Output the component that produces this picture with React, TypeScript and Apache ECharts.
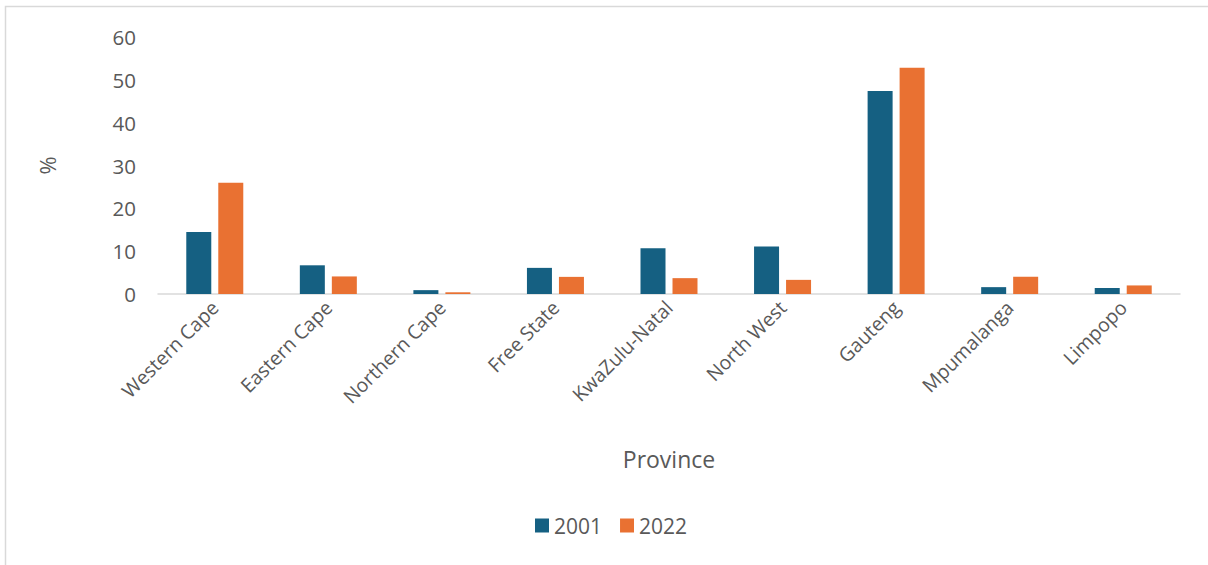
import React, { useEffect, useRef } from "react";
import * as echarts from "echarts";

const categories = [
  "Western Cape",
  "Eastern Cape",
  "Northern Cape",
  "Free State",
  "KwaZulu-Natal",
  "North West",
  "Gauteng",
  "Mpumalanga",
  "Limpopo",
];
const values2001 = [14.5, 6.7, 0.9, 6.1, 10.7, 11.1, 47.4, 1.6, 1.4];
const values2022 = [26.0, 4.1, 0.4, 4.0, 3.7, 3.3, 52.8, 4.0, 2.0];
const yTicks = [0, 10, 20, 30, 40, 50, 60];

const FONT = "'Open Sans', 'Noto Sans', sans-serif";

export default function App() {
  const ref = useRef<HTMLDivElement>(null);
  useEffect(() => {
    if (!ref.current) return;
    const chart = echarts.init(ref.current, undefined, { renderer: "svg" });
    chart.setOption({
      animation: false,
      backgroundColor: "#ffffff",
      textStyle: { fontFamily: FONT },
      graphic: [
        {
          type: "rect",
          shape: { x: 5.5, y: 6.5, width: 1300, height: 700 },
          style: { fill: "none", stroke: "#d9d9d9", lineWidth: 1.5 },
          silent: true,
          z: -1,
        },
      ],
      grid: { left: 158, right: 28, top: 37, bottom: 271, containLabel: false },
      legend: {
        bottom: 24,
        left: 530,
        itemWidth: 14,
        itemHeight: 14,
        itemGap: 18,
        icon: "rect",
        textStyle: { fontSize: 21, color: "#595959", fontFamily: FONT },
        data: ["2001", "2022"],
      },
      xAxis: {
        type: "category",
        data: categories,
        name: "Province",
        nameLocation: "middle",
        nameGap: 153,
        nameTextStyle: { fontSize: 23, color: "#595959", fontFamily: FONT },
        axisLine: { lineStyle: { color: "#d9d9d9", width: 1.5 } },
        axisTick: { show: false },
        axisLabel: {
          rotate: 45,
          interval: 0,
          fontSize: 19.5,
          color: "#595959",
          margin: 10,
          fontFamily: FONT,
        },
      },
      yAxis: {
        type: "value",
        min: 0,
        max: yTicks[yTicks.length - 1],
        interval: 10,
        name: "%",
        nameLocation: "middle",
        nameGap: 100,
        nameTextStyle: { fontSize: 22, color: "#595959", fontFamily: FONT },
        axisLine: { show: false },
        axisTick: { show: false },
        splitLine: { show: false },
        axisLabel: { fontSize: 20.5, color: "#595959", margin: 22, fontFamily: FONT },
      },
      series: [
        {
          name: "2001",
          type: "bar",
          data: values2001,
          barWidth: 25,
          barGap: "28%",
          itemStyle: { color: "#156082" },
        },
        {
          name: "2022",
          type: "bar",
          data: values2022,
          barWidth: 25,
          barGap: "28%",
          itemStyle: { color: "#E97132" },
        },
      ],
    });
    return () => chart.dispose();
  }, []);
  return (
    <div
      ref={ref}
      style={{ position: "absolute", left: 0, top: 0, width: 1208, height: 565 }}
    />
  );
}
